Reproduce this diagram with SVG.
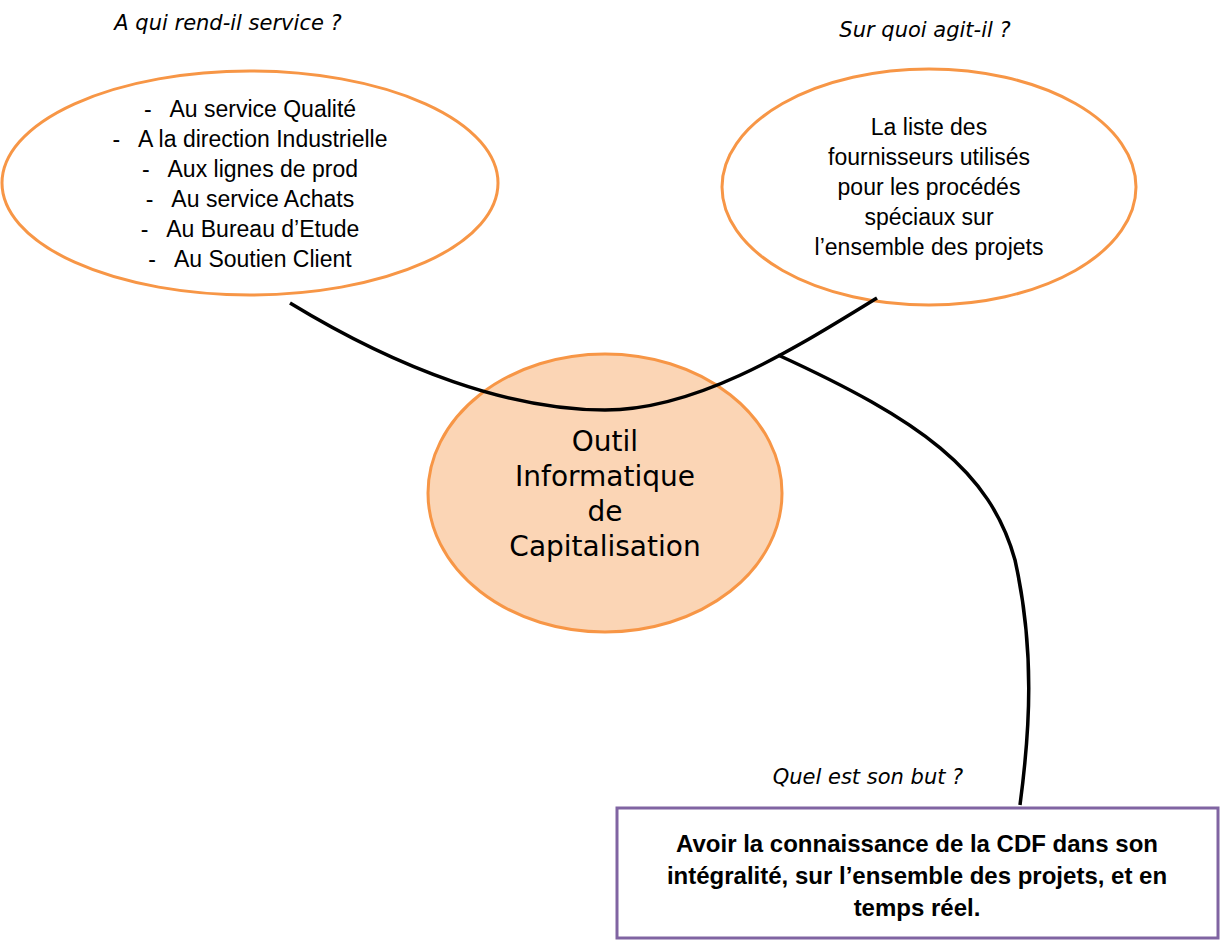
<svg xmlns="http://www.w3.org/2000/svg" width="1221" height="941" viewBox="0 0 1221 941">
<style>
.e{fill:#fff;stroke:#F79646;stroke-width:3}
.t{font-family:"Liberation Sans",Arial,sans-serif;font-size:23px;fill:#000;text-anchor:middle;white-space:pre}
.q{font-family:"DejaVu Sans",sans-serif;font-style:italic;font-size:21px;fill:#000;text-anchor:middle}
.c{fill:none;stroke:#000;stroke-width:3.5}
</style>
<rect width="1221" height="941" fill="#fff"/>
<text class="q" x="228" y="30">A qui rend-il service ?</text>
<text class="q" x="925" y="37">Sur quoi agit-il ?</text>
<text class="q" x="868" y="784">Quel est son but ?</text>
<g id="n1">
<ellipse class="e" cx="250" cy="183" rx="248" ry="112"/>
<text class="t" x="250" y="117" xml:space="preserve">-   Au service Qualité</text>
<text class="t" x="250" y="147" xml:space="preserve">-   A la direction Industrielle</text>
<text class="t" x="250" y="177" xml:space="preserve">-   Aux lignes de prod</text>
<text class="t" x="250" y="207" xml:space="preserve">-   Au service Achats</text>
<text class="t" x="250" y="237" xml:space="preserve">-   Au Bureau d’Etude</text>
<text class="t" x="250" y="267" xml:space="preserve">-   Au Soutien Client</text>
</g>
<g id="n2">
<ellipse class="e" cx="929" cy="187" rx="207" ry="118"/>
<text class="t" x="929" y="135">La liste des</text>
<text class="t" x="929" y="165">fournisseurs utilisés</text>
<text class="t" x="929" y="195">pour les procédés</text>
<text class="t" x="929" y="225">spéciaux sur</text>
<text class="t" x="929" y="255">l’ensemble des projets</text>
</g>
<g id="n3">
<ellipse cx="605" cy="493" rx="177" ry="139" fill="#FBD5B5" stroke="#F79646" stroke-width="3"/>
<g class="q" style="font-style:normal;font-size:28px">
<text x="605" y="451">Outil</text>
<text x="605" y="486">Informatique</text>
<text x="605" y="521">de</text>
<text x="605" y="556">Capitalisation</text>
</g>
</g>
<g id="n4">
<rect x="617" y="808" width="601" height="130" fill="#fff" stroke="#8064A2" stroke-width="3"/>
<g class="t" style="font-weight:bold;font-size:24px">
<text x="917" y="852">Avoir la connaissance de la CDF dans son</text>
<text x="917" y="884">intégralité, sur l’ensemble des projets, et en</text>
<text x="917" y="916">temps réel.</text>
</g>
</g>
<g id="connectors">
<path class="c" d="M290,303 C400,370 510,410 605,410 C700,410 800,345 877,298"/>
<path class="c" d="M778,355 C920,420 990,470 1015,560 C1035,650 1030,730 1020,805"/>
</g>
</svg>
